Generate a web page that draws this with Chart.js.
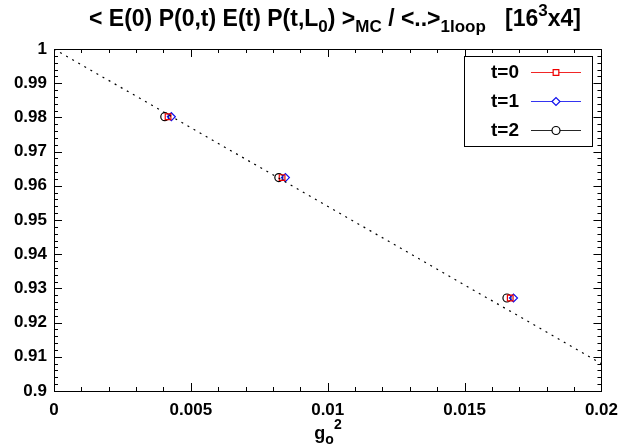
<!DOCTYPE html>
<html>
<head>
<meta charset="utf-8">
<script src="https://cdn.jsdelivr.net/npm/chart.js@4.4.1/dist/chart.umd.min.js"></script>
<style>
  html, body { margin: 0; padding: 0; background: #fff; }
  #wrap { width: 627px; height: 446px; position: relative; }
</style>
</head>
<body>
<div id="wrap"><canvas id="c" width="627" height="446"></canvas></div>
<script>
// g0^2 values of the three lattice couplings
const couplings = [0.004167, 0.008333, 0.016667];
// small horizontal shifts so the three t-series do not overlap
const shiftT0 = 0.0;
const shiftT1 = 0.00012;
const shiftT2 = -0.00012;
// MC / 1-loop ratio for each t
const ratioT0 = [0.9802, 0.9624, 0.9272];
const ratioT1 = [0.9802, 0.9624, 0.9272];
const ratioT2 = [0.9802, 0.9624, 0.9272];
// perturbative reference line
const refX = [0, 0.02];
const refY = [1.0, 0.908];
// axis ticks
const xTicks = [0, 0.005, 0.01, 0.015, 0.02];
const yTicks = [0.9, 0.91, 0.92, 0.93, 0.94, 0.95, 0.96, 0.97, 0.98, 0.99, 1];

const FONT = 'Liberation Sans, Arial, Helvetica, sans-serif';

function pts(xs, ys, dx) { return xs.map((x, i) => ({ x: x + dx, y: ys[i] })); }

const series = [
  { label: 't=0', data: pts(couplings, ratioT0, shiftT0), color: '#ee0000', style: 'rect', r: 4 },
  { label: 't=1', data: pts(couplings, ratioT1, shiftT1), color: '#1010ee', style: 'rectRot', r: 4 },
  { label: 't=2', data: pts(couplings, ratioT2, shiftT2), color: '#000000', style: 'circle', r: 4 },
];

// frame, inside ticks (all four sides), title, axis label and legend
const decor = {
  id: 'decor',
  afterDraw(chart) {
    const ctx = chart.ctx;
    const a = chart.chartArea;
    const xs = chart.scales.x, ys = chart.scales.y;
    ctx.save();
    ctx.strokeStyle = '#000';
    ctx.lineWidth = 1;
    ctx.strokeRect(Math.round(a.left) + 0.5, Math.round(a.top) + 0.5,
                   Math.round(a.right - a.left), Math.round(a.bottom - a.top));
    ctx.beginPath();
    for (let v = 0; v <= 0.02 + 1e-9; v += 0.001) {
      const major = Math.abs(v / 0.005 - Math.round(v / 0.005)) < 1e-6;
      const L = major ? 8 : 4;
      const px = Math.round(xs.getPixelForValue(v)) + 0.5;
      ctx.moveTo(px, a.bottom); ctx.lineTo(px, a.bottom - L);
      ctx.moveTo(px, a.top); ctx.lineTo(px, a.top + L);
    }
    for (let v = 0.9; v <= 1.0 + 1e-9; v += 0.002) {
      const major = Math.abs(v / 0.01 - Math.round(v / 0.01)) < 1e-6;
      const L = major ? 8 : 4;
      const py = Math.round(ys.getPixelForValue(v)) + 0.5;
      ctx.moveTo(a.left, py); ctx.lineTo(a.left + L, py);
      ctx.moveTo(a.right, py); ctx.lineTo(a.right - L, py);
    }
    ctx.stroke();

    // rich text helper: segments with baseline shift
    function rich(segs, cx, y, size, align) {
      const measure = s => { ctx.font = 'bold ' + (s.sz || size) + 'px ' + FONT; return ctx.measureText(s.t).width; };
      const total = segs.reduce((w, s) => w + measure(s), 0);
      let x = align === 'center' ? cx - total / 2 : cx;
      ctx.fillStyle = '#000';
      ctx.textBaseline = 'alphabetic';
      ctx.textAlign = 'left';
      for (const s of segs) {
        ctx.font = 'bold ' + (s.sz || size) + 'px ' + FONT;
        ctx.fillText(s.t, x, y + (s.dy || 0));
        x += ctx.measureText(s.t).width;
      }
    }

    rich([
      { t: '< E(0) P(0,t) E(t) P(t,L' },
      { t: '0', sz: 17, dy: 6 },
      { t: ') >' },
      { t: 'MC', sz: 17, dy: 6 },
      { t: ' / <..>' },
      { t: '1loop', sz: 17, dy: 6 },
      { t: '   [16' },
      { t: '3', sz: 17, dy: -10 },
      { t: 'x4]' },
    ], 335, 26, 23, 'center');

    rich([
      { t: 'g' },
      { t: 'o', sz: 14, dy: 5 },
      { t: '2', sz: 14, dy: -10 },
    ], 328, 439, 18, 'center');

    // legend box
    const bx = 464.5, by = 56.5, bw = 128, bh = 90;
    ctx.fillStyle = '#fff';
    ctx.fillRect(bx, by, bw, bh);
    ctx.strokeStyle = '#000';
    ctx.strokeRect(bx, by, bw, bh);
    series.forEach((s, i) => {
      const y = 72 + i * 29;
      ctx.fillStyle = '#000';
      ctx.font = 'bold 19px ' + FONT;
      ctx.textAlign = 'right';
      ctx.textBaseline = 'middle';
      ctx.fillText(s.label, 519, y + 1);
      ctx.strokeStyle = s.color;
      ctx.globalAlpha = 0.85;
      ctx.beginPath();
      ctx.moveTo(531, y + 0.5); ctx.lineTo(581, y + 0.5);
      ctx.stroke();
      ctx.globalAlpha = 1;
      ctx.fillStyle = '#fff';
      ctx.strokeStyle = s.color;
      ctx.lineWidth = 1.2;
      Chart.helpers.drawPoint(ctx, { pointStyle: s.style, radius: s.r, borderWidth: 1.2 }, 556, y + 0.5);
    });
    ctx.restore();
  }
};

const datasets = [{
  type: 'line',
  data: refX.map((x, i) => ({ x, y: refY[i] })),
  borderColor: '#000',
  borderWidth: 1.2,
  borderDash: [2, 5],
  pointRadius: 0,
  fill: false,
}].concat(series.map(s => ({
  type: 'scatter',
  label: s.label,
  data: s.data,
  showLine: false,
  pointStyle: s.style,
  pointRadius: s.r,
  pointBorderColor: s.color,
  pointBackgroundColor: 'rgba(0,0,0,0)',
  pointBorderWidth: 1.2,
})));

new Chart(document.getElementById('c'), {
  data: { datasets },
  options: {
    responsive: false,
    animation: false,
    layout: { padding: { top: 49, right: 24, left: 0, bottom: 0 } },
    plugins: { legend: { display: false }, tooltip: { enabled: false }, title: { display: false } },
    scales: {
      x: {
        type: 'linear', min: 0, max: 0.02,
        afterBuildTicks: sc => { sc.ticks = xTicks.map(v => ({ value: v })); },
        afterFit: sc => { sc.height = 55; },
        grid: { display: false, drawTicks: false },
        border: { display: false },
        ticks: {
          padding: 9, color: '#000', maxRotation: 0,
          font: { family: FONT, size: 17, weight: 'bold' },
          callback: v => String(Number(v.toFixed(3)))
        }
      },
      y: {
        type: 'linear', min: 0.9, max: 1,
        afterBuildTicks: sc => { sc.ticks = yTicks.map(v => ({ value: v })); },
        afterFit: sc => { sc.width = 54; },
        grid: { display: false, drawTicks: false },
        border: { display: false },
        ticks: {
          padding: 7, color: '#000',
          font: { family: FONT, size: 17, weight: 'bold' },
          callback: v => String(Number(v.toFixed(3)))
        }
      }
    }
  },
  plugins: [decor]
});
</script>
</body>
</html>
